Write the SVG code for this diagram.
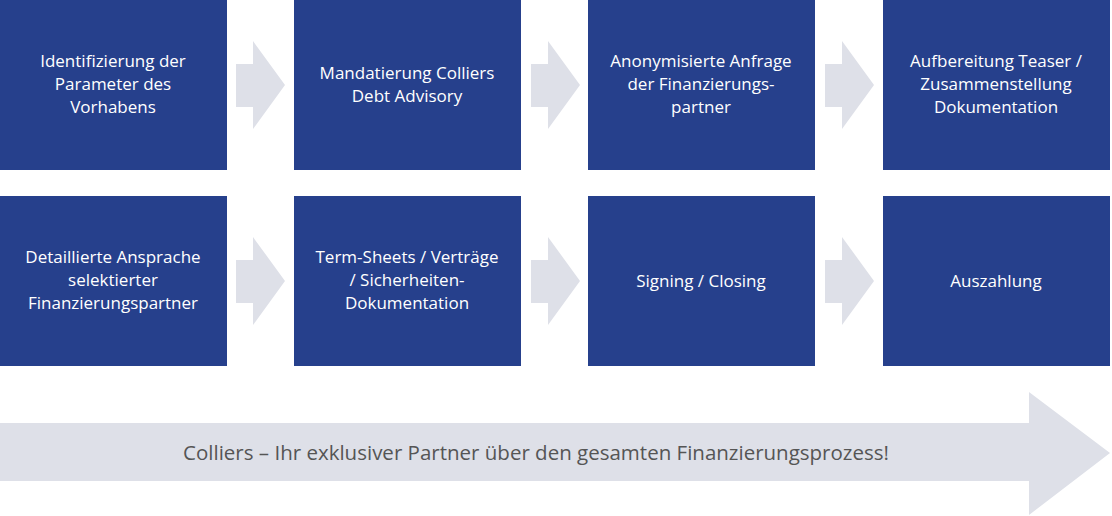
<svg xmlns="http://www.w3.org/2000/svg" width="1112" height="516" viewBox="0 0 1112 516">
<style>
.b{fill:#26408c}
.t{fill:#fff;font-family:"Open Sans",sans-serif;font-size:17px;text-anchor:middle}
.a{fill:#dee0e8}
.bt{fill:#555;font-family:"Open Sans",sans-serif;font-size:20.5px;text-anchor:middle}
</style>
<defs><path id="ar" d="M0 23H17V0L49 44L17 88V66H0Z"/></defs>
<g id="connectors" class="a">
<use href="#ar" x="236" y="41"/><use href="#ar" x="531" y="41"/><use href="#ar" x="825" y="41"/>
<use href="#ar" x="236" y="237"/><use href="#ar" x="531" y="237"/><use href="#ar" x="825" y="237"/>
<path id="big" d="M0 423H1029V392L1110 453L1029 515V481H0Z"/>
</g>
<g id="n1"><rect class="b" x="0" y="0" width="227" height="170"/><text class="t" x="113" y="67">Identifizierung der</text><text class="t" x="113" y="90">Parameter des</text><text class="t" x="113" y="113">Vorhabens</text></g>
<g id="n2"><rect class="b" x="294" y="0" width="227" height="170"/><text class="t" x="407" y="79">Mandatierung Colliers</text><text class="t" x="407" y="102">Debt Advisory</text></g>
<g id="n3"><rect class="b" x="588" y="0" width="227" height="170"/><text class="t" x="701" y="67">Anonymisierte Anfrage</text><text class="t" x="701" y="90">der Finanzierungs-</text><text class="t" x="701" y="113">partner</text></g>
<g id="n4"><rect class="b" x="883" y="0" width="227" height="170"/><text class="t" x="996" y="67">Aufbereitung Teaser /</text><text class="t" x="996" y="90">Zusammenstellung</text><text class="t" x="996" y="113">Dokumentation</text></g>
<g id="n5"><rect class="b" x="0" y="196" width="227" height="170"/><text class="t" x="113" y="263">Detaillierte Ansprache</text><text class="t" x="113" y="286">selektierter</text><text class="t" x="113" y="309">Finanzierungspartner</text></g>
<g id="n6"><rect class="b" x="294" y="196" width="227" height="170"/><text class="t" x="407" y="263">Term-Sheets / Verträge</text><text class="t" x="407" y="286">/ Sicherheiten-</text><text class="t" x="407" y="309">Dokumentation</text></g>
<g id="n7"><rect class="b" x="588" y="196" width="227" height="170"/><text class="t" x="701" y="287">Signing / Closing</text></g>
<g id="n8"><rect class="b" x="883" y="196" width="227" height="170"/><text class="t" x="996" y="287">Auszahlung</text></g>
<text class="bt" x="536" y="460">Colliers – Ihr exklusiver Partner über den gesamten Finanzierungsprozess!</text>
</svg>
